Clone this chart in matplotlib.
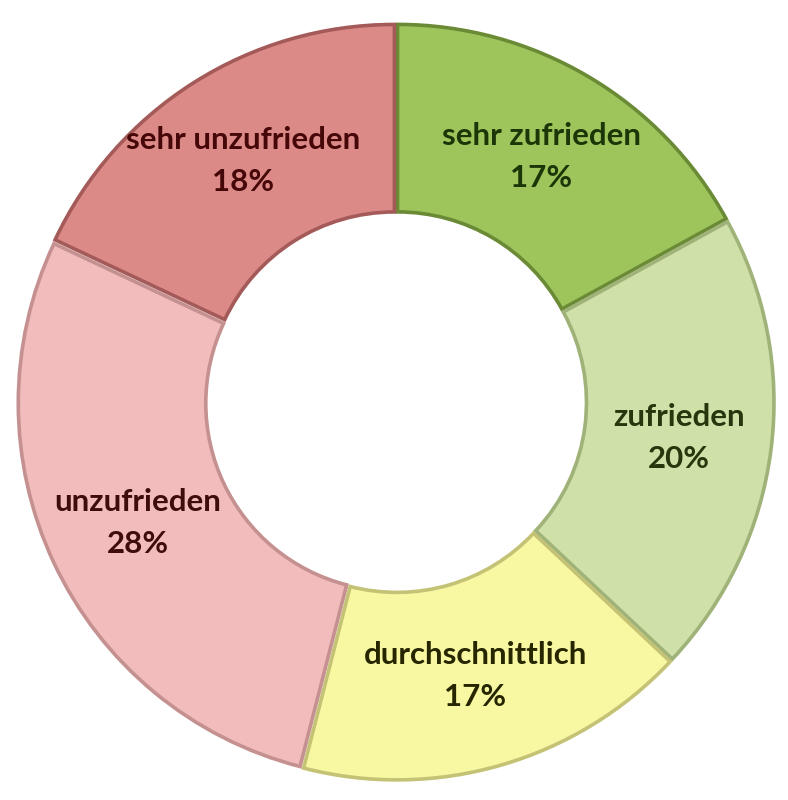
import matplotlib.pyplot as plt
import numpy as np

# survey answers, clockwise from 12 o'clock
labels = ["sehr zufrieden", "zufrieden", "durchschnittlich", "unzufrieden", "sehr unzufrieden"]
shares = [17, 20, 17, 28, 18]

colors = ["#9dc55c", "#cfe0a8", "#f8f7a2", "#f1bcbb", "#dc8a88"]
edges = ["#6a8a35", "#9fb278", "#c4c275", "#c49090", "#a35a58"]
text_colors = ["#1d3608", "#27360c", "#262600", "#3e0c0c", "#450707"]

fig = plt.figure(figsize=(7.88, 8), dpi=100)
ax = fig.add_axes([0, 0, 1, 1])

wedges, _ = ax.pie(
    shares,
    colors=colors,
    startangle=90,
    counterclock=False,
    radius=1.0,
    explode=[0.008] * len(shares),
    wedgeprops=dict(width=0.5, linewidth=2.6),
)
for w, ec in zip(wedges, edges):
    w.set_edgecolor(ec)

for w, lab, v, tc in zip(wedges, labels, shares, text_colors):
    ang = np.deg2rad((w.theta1 + w.theta2) / 2)
    r = 0.76
    ax.text(r * np.cos(ang), r * np.sin(ang), f"{lab}\n{v}%",
            ha="center", va="center", fontsize=22.5, fontweight="bold",
            family="Lato", color=tc, linespacing=1.6)

# center of the ring at pixel (396, 402), outer radius 375 px
R = 375
ax.set_aspect("equal")
ax.set_xlim(-396 / R, (788 - 396) / R)
ax.set_ylim(-(800 - 402) / R, 402 / R)
ax.axis("off")

plt.savefig("out.png", dpi=100)
plt.close()
